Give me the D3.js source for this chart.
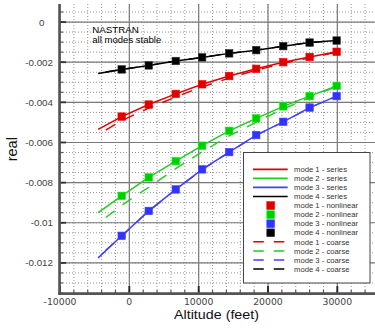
<!DOCTYPE html>
<html>
<head>
<meta charset="utf-8">
<script src="https://cdn.jsdelivr.net/npm/d3@7"></script>
<style>
  html, body { margin: 0; padding: 0; background: #fff; }
  svg { display: block; }
</style>
</head>
<body>
<svg id="chart" width="375" height="329"></svg>
<script>
// ---- data ----
const modeNames = ["mode 1", "mode 2", "mode 3", "mode 4"];
const modeColors = ["#e00000", "#22cc22", "#4040ff", "#000000"];
const squareColors = ["#dd0000", "#00cc00", "#3333ff", "#000000"];

const altSeries = [-4500, -1100, 2800, 6700, 10500, 14400, 18300, 22200, 26000, 29900];
const altCoarse = [-3400, -1100, 2800, 6700, 10500, 14400, 18300, 22200, 26000, 29900];
const altNonlin = [-1100, 2800, 6700, 10500, 14400, 18300, 22200, 26000, 29900];

const mode1Series = [-0.00535, -0.00471, -0.00411, -0.00358, -0.00310, -0.00269, -0.00233, -0.00200, -0.00174, -0.00148];
const mode2Series = [-0.00949, -0.00866, -0.00774, -0.00693, -0.00616, -0.00542, -0.00480, -0.00420, -0.00369, -0.00318];
const mode3Series = [-0.01175, -0.01065, -0.00941, -0.00834, -0.00734, -0.00648, -0.00563, -0.00497, -0.00426, -0.00369];
const mode4Series = [-0.00256, -0.00236, -0.00216, -0.00194, -0.00176, -0.00156, -0.00140, -0.00120, -0.00102, -0.00092];

const mode1Nonlin = [-0.00471, -0.00411, -0.00358, -0.00310, -0.00269, -0.00233, -0.00200, -0.00174, -0.00148];
const mode2Nonlin = [-0.00866, -0.00774, -0.00693, -0.00616, -0.00542, -0.00480, -0.00420, -0.00369, -0.00318];
const mode3Nonlin = [-0.01065, -0.00941, -0.00834, -0.00734, -0.00648, -0.00563, -0.00497, -0.00426, -0.00369];
const mode4Nonlin = [-0.00236, -0.00216, -0.00194, -0.00176, -0.00156, -0.00140, -0.00120, -0.00102, -0.00092];

const mode1Coarse = [-0.00538, -0.00491, -0.00429, -0.00373, -0.00323, -0.00279, -0.00240, -0.00206, -0.00178, -0.00150];
const mode2Coarse = [-0.00974, -0.00913, -0.00823, -0.00730, -0.00646, -0.00567, -0.00498, -0.00433, -0.00376, -0.00321];
const mode3Coarse = [-0.01137, -0.01066, -0.00942, -0.00835, -0.00735, -0.00649, -0.00564, -0.00498, -0.00427, -0.00370];
const mode4Coarse = [-0.00249, -0.00236, -0.00216, -0.00194, -0.00176, -0.00156, -0.00140, -0.00120, -0.00102, -0.00092];

const xTicks = [-10000, 0, 10000, 20000, 30000];
const yTicks = [0, -0.002, -0.004, -0.006, -0.008, -0.01, -0.012];
const yTickLabels = ["0", "-0.002", "-0.004", "-0.006", "-0.008", "-0.01", "-0.012"];

const series = [mode1Series, mode2Series, mode3Series, mode4Series];
const nonlin = [mode1Nonlin, mode2Nonlin, mode3Nonlin, mode4Nonlin];
const coarse = [mode1Coarse, mode2Coarse, mode3Coarse, mode4Coarse];

// ---- chart ----
const svg = d3.select("#chart");
const x = d3.scaleLinear().domain([-10000, 35000]).range([60, 372]);
const y = d3.scaleLinear().domain([-0.0135, 0.0009]).range([293, 4]);

const xMinor = d3.range(-5, 18).map(i => i * 2000);
const yMinor = d3.range(-27, 2).map(i => i * 0.0005);

const grid = svg.append("g");
grid.selectAll(".vminor").data(xMinor).join("line")
  .attr("x1", d => x(d)).attr("x2", d => x(d))
  .attr("y1", y.range()[1]).attr("y2", y.range()[0])
  .attr("stroke", "#8a8a8a").attr("stroke-width", 0.9).attr("stroke-dasharray", "1,2");
grid.selectAll(".hminor").data(yMinor).join("line")
  .attr("x1", x.range()[0]).attr("x2", 375)
  .attr("y1", d => y(d)).attr("y2", d => y(d))
  .attr("stroke", "#8a8a8a").attr("stroke-width", 0.9).attr("stroke-dasharray", "1,2");
grid.selectAll(".vmajor").data(xTicks).join("line")
  .attr("x1", d => x(d)).attr("x2", d => x(d))
  .attr("y1", y.range()[1]).attr("y2", y.range()[0])
  .attr("stroke", "#7a7a7a").attr("stroke-width", 1.2);
grid.selectAll(".hmajor").data(yTicks).join("line")
  .attr("x1", x.range()[0]).attr("x2", 375)
  .attr("y1", d => y(d)).attr("y2", d => y(d))
  .attr("stroke", "#7a7a7a").attr("stroke-width", 1.2);

const lineS = d3.line().x(d => x(d[0])).y(d => y(d[1]));

const marks = svg.append("g");
coarse.forEach((vals, i) => {
  marks.append("path")
    .attr("d", lineS(altCoarse.map((a, j) => [a, vals[j]])))
    .attr("fill", "none").attr("stroke", modeColors[i]).attr("stroke-width", 1.4)
    .attr("stroke-dasharray", "11,10");
});
series.forEach((vals, i) => {
  marks.append("path")
    .attr("d", lineS(altSeries.map((a, j) => [a, vals[j]])))
    .attr("fill", "none").attr("stroke", modeColors[i]).attr("stroke-width", 1.5);
});
const sq = 7.5;
nonlin.forEach((vals, i) => {
  marks.selectAll(null).data(altNonlin.map((a, j) => [a, vals[j]])).join("rect")
    .attr("x", d => x(d[0]) - sq / 2).attr("y", d => y(d[1]) - sq / 2)
    .attr("width", sq).attr("height", sq)
    .attr("fill", squareColors[i])
    .attr("stroke", i === 3 ? "#333" : d3.color(squareColors[i]).brighter(0.8)).attr("stroke-width", 0.6);
});

// ---- axes ----
const ax = svg.append("g");
const axisColor = "#555";
ax.selectAll(".ytm").data(yMinor).join("line")
  .attr("x1", x.range()[0]).attr("x2", x.range()[0] + 3)
  .attr("y1", d => y(d)).attr("y2", d => y(d))
  .attr("stroke", axisColor).attr("stroke-width", 1.2);
ax.selectAll(".ytM").data(yTicks).join("line")
  .attr("x1", x.range()[0]).attr("x2", x.range()[0] + 6)
  .attr("y1", d => y(d)).attr("y2", d => y(d))
  .attr("stroke", "#333").attr("stroke-width", 1.8);
ax.selectAll(".xtm").data(xMinor).join("line")
  .attr("x1", d => x(d)).attr("x2", d => x(d))
  .attr("y1", y.range()[0]).attr("y2", y.range()[0] - 3)
  .attr("stroke", axisColor).attr("stroke-width", 1.2);
ax.selectAll(".xtM").data(xTicks).join("line")
  .attr("x1", d => x(d)).attr("x2", d => x(d))
  .attr("y1", y.range()[0]).attr("y2", y.range()[0] - 7)
  .attr("stroke", "#222").attr("stroke-width", 1.8);
ax.append("line").attr("x1", x.range()[0] - 0.5).attr("x2", x.range()[0] - 0.5)
  .attr("y1", y.range()[1]).attr("y2", y.range()[0] + 1.8)
  .attr("stroke", axisColor).attr("stroke-width", 2.6);
ax.append("line").attr("x1", x.range()[0] - 1.8).attr("x2", 375)
  .attr("y1", y.range()[0] + 0.6).attr("y2", y.range()[0] + 0.6)
  .attr("stroke", axisColor).attr("stroke-width", 2.6);

// tick labels
ax.selectAll(".yl").data(yTicks).join("text")
  .attr("x", 53).attr("y", d => y(d) + 3.6)
  .attr("dx", d => d === 0 ? -8.5 : 0)
  .attr("text-anchor", "end")
  .attr("font-family", "Liberation Sans, Arial, sans-serif").attr("font-size", 9.8)
  .attr("fill", "#444")
  .text((d, i) => yTickLabels[i]);
ax.selectAll(".xl").data(xTicks).join("text")
  .attr("x", d => x(d)).attr("y", 305)
  .attr("text-anchor", "middle")
  .attr("font-family", "DejaVu Sans, sans-serif").attr("font-size", 9.3)
  .attr("fill", "#444")
  .text(d => String(d));

// axis titles
svg.append("text").attr("x", 216.5).attr("y", 319.2).attr("text-anchor", "middle")
  .attr("font-family", "Liberation Sans, Arial, sans-serif").attr("font-size", 12.6)
  .attr("textLength", 85).attr("lengthAdjust", "spacingAndGlyphs")
  .attr("fill", "#111").text("Altitude (feet)");
svg.append("text").attr("transform", "translate(16.7,149.2) rotate(-90)")
  .attr("text-anchor", "middle")
  .attr("font-family", "Liberation Sans, Arial, sans-serif").attr("font-size", 14.5)
  .attr("fill", "#111").text("real");

// annotation
svg.append("text").attr("x", 92.3).attr("y", 32.6)
  .attr("font-family", "Liberation Sans, Arial, sans-serif").attr("font-size", 8.8)
  .attr("textLength", 46.5).attr("lengthAdjust", "spacingAndGlyphs")
  .attr("fill", "#000").text("NASTRAN");
svg.append("text").attr("x", 92.3).attr("y", 42.6)
  .attr("font-family", "Liberation Sans, Arial, sans-serif").attr("font-size", 8.8)
  .attr("textLength", 69).attr("lengthAdjust", "spacingAndGlyphs")
  .attr("fill", "#000").text("all modes stable");

// ---- legend ----
const lg = svg.append("g");
lg.append("rect").attr("x", 243.5).attr("y", 152.5).attr("width", 126.5).attr("height", 130.5)
  .attr("fill", "#fff").attr("stroke", "#444").attr("stroke-width", 1);
const entries = [];
modeNames.forEach((m, i) => entries.push({ type: "series", i, label: m + " - series" }));
modeNames.forEach((m, i) => entries.push({ type: "nonlin", i, label: m + " - nonlinear" }));
modeNames.forEach((m, i) => entries.push({ type: "coarse", i, label: m + " - coarse" }));
const rowY = k => 169.3 + k * 9.07;
entries.forEach((e, k) => {
  const yy = rowY(k);
  if (e.type === "series") {
    lg.append("line").attr("x1", 253).attr("x2", 287.7).attr("y1", yy).attr("y2", yy)
      .attr("stroke", modeColors[e.i]).attr("stroke-width", 1.7);
  } else if (e.type === "coarse") {
    lg.append("line").attr("x1", 253.3).attr("x2", 284.3).attr("y1", yy).attr("y2", yy)
      .attr("stroke", modeColors[e.i]).attr("stroke-width", 1.5).attr("stroke-dasharray", "10.5,10");
  } else {
    lg.append("rect").attr("x", 270.7 - 3.9).attr("y", yy - 3.9).attr("width", 7.8).attr("height", 7.8)
      .attr("fill", squareColors[e.i])
      .attr("stroke", e.i === 3 ? "#333" : d3.color(squareColors[e.i]).brighter(0.8)).attr("stroke-width", 0.6);
  }
  lg.append("text").attr("x", 294).attr("y", yy + 2.7)
    .attr("font-family", "Liberation Sans, Arial, sans-serif").attr("font-size", 7.7)
    .attr("fill", "#333").text(e.label);
});
</script>
</body>
</html>
